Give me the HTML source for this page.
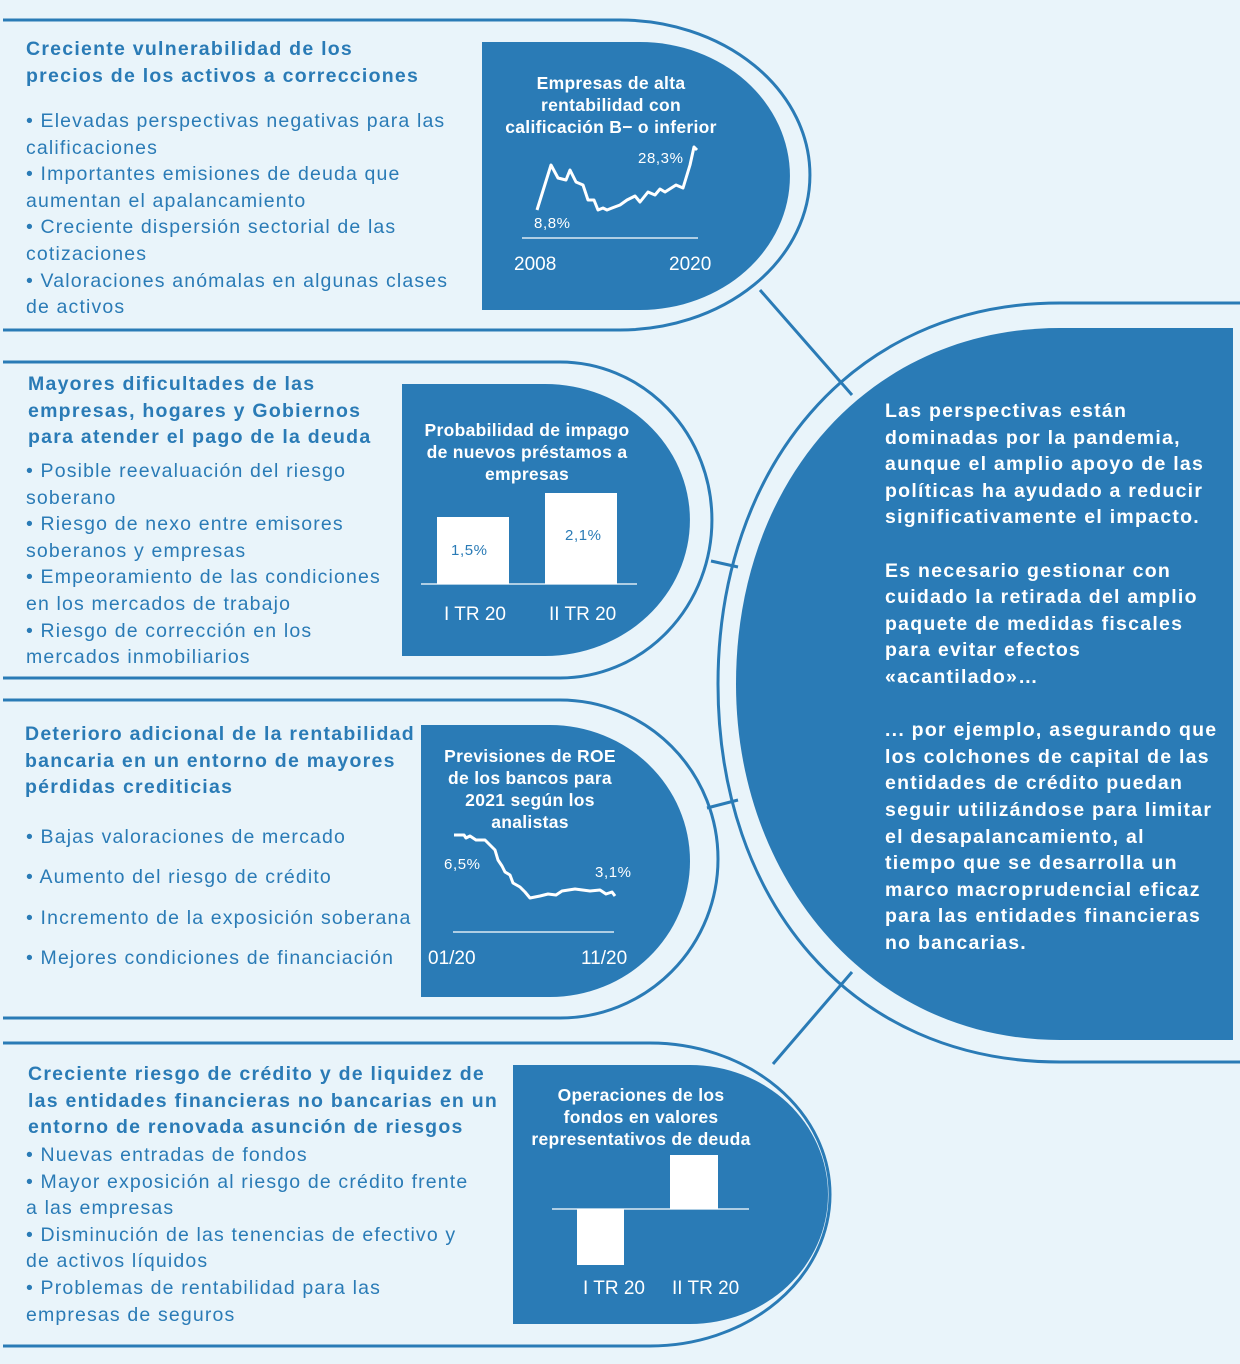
<!DOCTYPE html>
<html><head><meta charset="utf-8"><style>
body{margin:0;width:1240px;height:1364px;background:#e9f4fa;position:relative;overflow:hidden;font-family:"Liberation Sans",Arial,sans-serif}
.t{position:absolute;color:#2a7bb6;font-size:19.5px;line-height:26.6px;letter-spacing:1.15px;white-space:nowrap}
.h{font-weight:bold;letter-spacing:1.25px}
.w{position:absolute;color:#fff;font-weight:bold;font-size:17.5px;line-height:22px;letter-spacing:0.3px;text-align:center;white-space:nowrap}
.r{position:absolute;color:#fff;font-weight:bold;font-size:19.5px;line-height:26.6px;letter-spacing:1.25px;white-space:nowrap}
svg{position:absolute;left:0;top:0}
</style></head><body>
<svg width="1240" height="1364" viewBox="0 0 1240 1364">
<g fill="none" stroke="#2a7bb6" stroke-width="3">
<path d="M3,20 H620 A190,155 0 0 1 620,330 H3"/>
<path d="M3,362 H560 A152,158 0 0 1 560,678 H3"/>
<path d="M3,700 H560 A158,159 0 0 1 560,1018 H3"/>
<path d="M3,1043 H650 A180,151.5 0 0 1 650,1346 H3"/>
<path d="M1240,303 H1060 C850,303 718,470 718,684 C718,900 850,1062 1060,1062 H1240"/>
<path d="M760,290 L852,395 M711,561 L738,567 M707,808 L738,800 M773,1064 L852,972"/>
</g>
<g fill="#2a7bb6">
<path d="M482,42 H640 A150,134 0 0 1 640,310 H482 Z"/>
<path d="M402,384 H545 A145,136 0 0 1 545,656 H402 Z"/>
<path d="M421,725 H550 A140,136 0 0 1 550,997 H421 Z"/>
<path d="M513,1065 H690 A138,129.5 0 0 1 690,1324 H513 Z"/>
<path d="M1233,328 H1060 C870,328 736,480 736,684 C736,880 870,1040 1060,1040 H1233 Z"/>
</g>
<g stroke="#fff" fill="none" stroke-width="3" stroke-linejoin="round">
<polyline points="537,210 551,165 558,178 566,180 570,170 576,182 583,185 588,200 594,200 598,210 603,208 607,210 612,208 620,205 627,200 635,196 640,202 648,192 655,195 660,189 665,192 676,185 683,188 690,165 694,147 697,150"/>
<polyline points="454,835 464,835 466,838 470,836 476,840 485,840 490,845 495,850 498,860 502,866 505,872 510,875 513,883 520,887 525,892 530,898 540,896 548,894 556,895 562,891 575,889 590,891 600,890 606,894 612,892 615,896"/>
</g>
<g stroke="#fff" stroke-width="1.2">
<line x1="522" y1="238" x2="698" y2="238"/>
<line x1="421" y1="584" x2="637" y2="584"/>
<line x1="453" y1="932" x2="614" y2="932"/>
<line x1="552" y1="1209" x2="749" y2="1209"/>
</g>
<g fill="#fff">
<rect x="437" y="517" width="72" height="67"/>
<rect x="545" y="493" width="72" height="91"/>
<rect x="577" y="1209" width="47" height="56"/>
<rect x="670" y="1155" width="48" height="54"/>
</g>
<g font-family="Liberation Sans,Arial,sans-serif" font-size="15" fill="#fff" letter-spacing="0.6">
<text x="534" y="228">8,8%</text><text x="638" y="163">28,3%</text>
<text x="444" y="869">6,5%</text><text x="595" y="877">3,1%</text>
</g>
<g font-family="Liberation Sans,Arial,sans-serif" font-size="15" fill="#2a7bb6" letter-spacing="0.6">
<text x="451" y="555">1,5%</text><text x="565" y="540">2,1%</text>
</g>
<g font-family="Liberation Sans,Arial,sans-serif" font-size="19" fill="#fff">
<text x="514" y="270">2008</text><text x="669" y="270">2020</text>
<text x="444" y="620">I TR 20</text><text x="549" y="620">II TR 20</text>
<text x="428" y="964">01/20</text><text x="581" y="964">11/20</text>
<text x="583" y="1294">I TR 20</text><text x="672" y="1294">II TR 20</text>
</g>
</svg>

<div class="t h" style="left:26px;top:36px">Creciente vulnerabilidad de los<br>precios de los activos a correcciones</div>
<div class="t" style="left:26px;top:108px">• Elevadas perspectivas negativas para las<br>calificaciones<br>• Importantes emisiones de deuda que<br>aumentan el apalancamiento<br>• Creciente dispersión sectorial de las<br>cotizaciones<br>• Valoraciones anómalas en algunas clases<br>de activos</div>
<div class="w" style="left:482px;width:258px;top:72px">Empresas de alta<br>rentabilidad con<br>calificación B− o inferior</div>

<div class="t h" style="left:28px;top:371px">Mayores dificultades de las<br>empresas, hogares y Gobiernos<br>para atender el pago de la deuda</div>
<div class="t" style="left:26px;top:458px">• Posible reevaluación del riesgo<br>soberano<br>• Riesgo de nexo entre emisores<br>soberanos y empresas<br>• Empeoramiento de las condiciones<br>en los mercados de trabajo<br>• Riesgo de corrección en los<br>mercados inmobiliarios</div>
<div class="w" style="left:412px;width:230px;top:419px">Probabilidad de impago<br>de nuevos préstamos a<br>empresas</div>

<div class="t h" style="left:25px;top:721px">Deterioro adicional de la rentabilidad<br>bancaria en un entorno de mayores<br>pérdidas crediticias</div>
<div class="t" style="left:26px;top:817px;line-height:40.3px">• Bajas valoraciones de mercado<br>• Aumento del riesgo de crédito<br>• Incremento de la exposición soberana<br>• Mejores condiciones de financiación</div>
<div class="w" style="left:430px;width:200px;top:745px">Previsiones de ROE<br>de los bancos para<br>2021 según los<br>analistas</div>

<div class="t h" style="left:28px;top:1061px">Creciente riesgo de crédito y de liquidez de<br>las entidades financieras no bancarias en un<br>entorno de renovada asunción de riesgos</div>
<div class="t" style="left:26px;top:1142px">• Nuevas entradas de fondos<br>• Mayor exposición al riesgo de crédito frente<br>a las empresas<br>• Disminución de las tenencias de efectivo y<br>de activos líquidos<br>• Problemas de rentabilidad para las<br>empresas de seguros</div>
<div class="w" style="left:520px;width:242px;top:1084px">Operaciones de los<br>fondos en valores<br>representativos de deuda</div>

<div class="r" style="left:885px;top:398px">Las perspectivas están<br>dominadas por la pandemia,<br>aunque el amplio apoyo de las<br>políticas ha ayudado a reducir<br>significativamente el impacto.<br><br>Es necesario gestionar con<br>cuidado la retirada del amplio<br>paquete de medidas fiscales<br>para evitar efectos<br>«acantilado»…<br><br>... por ejemplo, asegurando que<br>los colchones de capital de las<br>entidades de crédito puedan<br>seguir utilizándose para limitar<br>el desapalancamiento, al<br>tiempo que se desarrolla un<br>marco macroprudencial eficaz<br>para las entidades financieras<br>no bancarias.</div>
</body></html>
